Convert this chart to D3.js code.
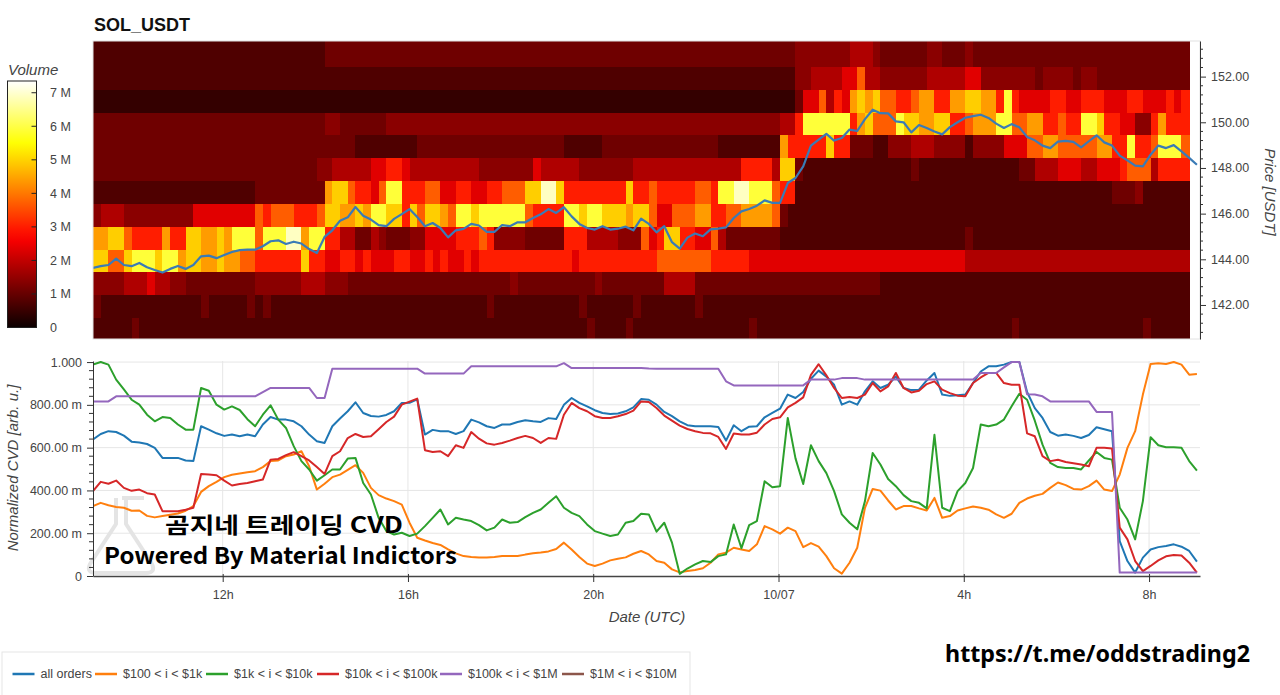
<!DOCTYPE html>
<html><head><meta charset="utf-8">
<script src="https://cdn.jsdelivr.net/npm/d3@7"></script>
<style>
body{margin:0;background:#fff;}
svg{display:block;font-family:"Liberation Sans",Arial,Helvetica,sans-serif;}
</style>
</head><body>
<svg id="c" width="1280" height="695"></svg>
<script>
// ---------------- DATA ----------------
const symbol = "SOL_USDT";
const startHour = 9.2;          // first sample, hours from 10/06 00:00 UTC
const stepHours = 1/6;          // 10-minute samples / heatmap columns
const priceBinStart = 140.45;   // lower edge of first price bin
const priceBinSize = 1.0;
// volume (millions) for each heat code 0..b
const volumeLevels = [0.45,0.75,1.1,1.4,1.8,2.35,3.0,3.7,4.4,4.95,5.9,6.9];
// one string per price bin (bottom to top), one code per 10-min column
const heatRows = [
 "1111121111 1111111111 1111111111 1111111111 1111111111 1111111111 1111211112 1111111111 1111121111 1111111111 1111111111 1111111112 1111111111 1111112111 11",
 "2111111111 1111211111 2121111111 1111111111 1111111111 1211111111 1112111111 2111111121 1111111111 1111111111 1111111111 1111111111 1111111111 1111111111 11",
 "3333444544 3322222222 2333333444 3332222222 2222222222 2222322222 2222232222 2222444422 2222222222 2222222222 2211111111 1111111111 1111111111 1111111111 11",
 "99779aaa9a a899889887 7666666966 5566565556 6556565565 6666666666 6656666666 6667777777 6666655555 5555555555 5555555555 5554444444 4444444444 4444444444 44",
 "8899766668 66998898aa a7aaabb8aa 6644224322 2335555666 7633332222 2666444433 3756996655 7422222221 1111111111 1111111111 1112111111 1111111111 1111111111 11",
 "3444333333 3335555555 5767776667 998898aa99 6979987aa9 aaaaaa7666 6aa9aa9998 9975577788 6677888872 1111111111 1111111111 1111111111 1111111111 1111111111 11",
 "1111111111 1111111111 1222222222 89976657aa 6667755665 56677799bb 9666666669 6676666677 6aabbaaa76 6111111111 1111111111 1111111111 1111111111 1122231111 11",
 "2222222222 2222222222 2222222223 3444445566 5444444444 3333333544 4443333333 4444444444 4444666649 9211111111 1111112111 1111111111 2244455544 5556777466 66",
 "2222222222 2222222222 2222222222 2222111111 1122222222 2222222222 2111112222 2222222222 2111111118 6666696622 2113334443 3331333355 5778877777 8866a667aa a7",
 "2222222222 2222222222 2222222222 3322222233 3333333333 3333333333 3333333333 3333333333 3333333334 46aaaaaa68 9777a99889 9667888aa7 78866766aa 9665533686 66",
 "0000000000 0000000000 0000000000 0000000000 0000000000 0000000000 0000000000 0000000000 0000000000 0255746589 8977667886 68899886a6 5555665566 6555665556 56",
 "1111111111 1111111111 1111111111 1111111111 1111111111 1111111111 1111111111 1111111111 1111111111 1334444557 4433333344 4445533333 3323333233 2222222222 22",
 "1111111111 1111111111 1111111111 2222222222 2222222222 2222222222 2222222222 2222222222 2222222222 2333333344 4322222233 2223222222 2222222222 2222222222 22",
 "1111111111 1111111111 1111111111 2222222222 2222222222 2222222222 2222222222 2222222222 2222222222 2333333344 4322222233 2223222222 2222222222 2222222222 22"
].map(s => s.replace(/ /g, ""));

const price = [
 143.62,143.70,143.75,144.03,143.75,143.70,143.84,143.65,143.53,143.42,
 143.58,143.71,143.58,143.75,144.13,144.16,144.05,144.19,144.32,144.40,
 144.42,144.42,144.57,144.79,144.83,144.67,144.77,144.69,144.45,144.28,
 144.98,145.27,145.69,145.84,146.29,145.91,145.74,145.50,145.45,145.77,
 145.98,146.20,145.85,145.45,145.59,145.37,144.96,145.27,145.33,145.55,
 145.48,145.20,145.20,145.50,145.45,145.62,145.62,145.81,145.97,146.20,
 146.03,146.28,145.88,145.55,145.37,145.30,145.45,145.30,145.34,145.43,
 145.27,145.78,145.55,145.18,145.45,144.75,144.47,144.95,145.13,145.01,
 145.31,145.34,145.40,145.81,146.10,146.20,146.35,146.58,146.47,146.47,
 147.34,147.56,148.07,148.98,149.24,149.49,149.20,149.31,149.68,149.62,
 150.14,150.55,150.40,150.39,150.04,150.00,149.56,149.88,149.75,149.60,
 149.47,149.79,150.00,150.20,150.27,150.33,150.19,149.94,149.75,149.92,
 149.78,149.36,149.21,148.98,148.87,149.15,149.19,149.14,148.90,149.17,
 149.43,149.12,148.98,148.54,148.33,148.10,148.07,148.58,148.98,148.87,
 149.00,148.73,148.44,148.14];

const cvdAllOrders = [
 0.638,0.664,0.677,0.673,0.656,0.628,0.624,0.617,0.599,0.552,
 0.552,0.552,0.54,0.537,0.70,0.684,0.667,0.655,0.661,0.653,
 0.661,0.653,0.708,0.743,0.731,0.731,0.723,0.70,0.661,0.63,
 0.622,0.70,0.736,0.77,0.812,0.762,0.748,0.745,0.753,0.77,
 0.809,0.81,0.826,0.661,0.683,0.677,0.677,0.664,0.677,0.731,
 0.718,0.70,0.692,0.708,0.708,0.72,0.728,0.723,0.72,0.738,
 0.734,0.80,0.832,0.809,0.793,0.775,0.762,0.757,0.76,0.77,
 0.788,0.827,0.824,0.801,0.767,0.747,0.723,0.705,0.70,0.70,
 0.70,0.697,0.633,0.705,0.677,0.698,0.70,0.742,0.762,0.782,
 0.848,0.832,0.86,0.922,0.96,0.932,0.894,0.801,0.816,0.801,
 0.863,0.91,0.879,0.894,0.932,0.879,0.869,0.871,0.914,0.949,
 0.848,0.842,0.845,0.848,0.902,0.956,0.98,0.98,0.988,1.0,
 1.0,0.86,0.785,0.739,0.673,0.656,0.661,0.655,0.645,0.659,
 0.695,0.686,0.677,0.163,0.07,0.016,0.086,0.124,0.135,0.14,
 0.148,0.137,0.117,0.067];

const cvd100to1k = [
 0.327,0.342,0.331,0.323,0.319,0.305,0.306,0.281,0.274,0.28,
 0.286,0.292,0.305,0.327,0.393,0.42,0.44,0.462,0.473,0.479,
 0.485,0.49,0.509,0.537,0.54,0.56,0.568,0.583,0.513,0.404,
 0.431,0.462,0.474,0.496,0.518,0.482,0.412,0.378,0.362,0.35,
 0.334,0.249,0.179,0.166,0.154,0.145,0.124,0.106,0.093,0.089,
 0.086,0.086,0.089,0.093,0.093,0.093,0.10,0.106,0.11,0.115,
 0.126,0.156,0.124,0.089,0.058,0.047,0.058,0.073,0.081,0.087,
 0.104,0.117,0.101,0.07,0.062,0.031,0.017,0.023,0.028,0.036,
 0.062,0.101,0.109,0.132,0.124,0.117,0.148,0.233,0.218,0.198,
 0.226,0.21,0.135,0.154,0.137,0.093,0.036,0.011,0.062,0.132,
 0.319,0.407,0.399,0.353,0.311,0.327,0.327,0.316,0.306,0.365,
 0.272,0.28,0.306,0.316,0.325,0.319,0.31,0.288,0.272,0.291,
 0.342,0.362,0.375,0.384,0.412,0.437,0.425,0.407,0.404,0.42,
 0.446,0.404,0.397,0.474,0.599,0.677,0.848,0.991,0.995,0.991,
 1.0,0.988,0.941,0.944];

const cvd1kto10k = [
 0.988,1.0,0.988,0.918,0.872,0.824,0.801,0.754,0.723,0.743,
 0.739,0.708,0.684,0.684,0.879,0.866,0.801,0.778,0.793,0.776,
 0.733,0.70,0.754,0.798,0.731,0.692,0.607,0.537,0.498,0.446,
 0.471,0.498,0.498,0.549,0.552,0.435,0.381,0.272,0.21,0.194,
 0.202,0.187,0.198,0.233,0.272,0.311,0.241,0.272,0.264,0.257,
 0.238,0.213,0.226,0.264,0.249,0.252,0.275,0.295,0.311,0.342,
 0.373,0.319,0.295,0.28,0.241,0.21,0.198,0.187,0.194,0.249,
 0.257,0.291,0.288,0.207,0.249,0.156,0.01,0.035,0.054,0.07,
 0.065,0.093,0.101,0.241,0.13,0.238,0.257,0.443,0.415,0.42,
 0.739,0.55,0.43,0.611,0.537,0.481,0.397,0.288,0.249,0.218,
 0.35,0.575,0.521,0.453,0.42,0.378,0.35,0.342,0.316,0.66,
 0.319,0.303,0.397,0.435,0.505,0.708,0.70,0.708,0.731,0.793,
 0.852,0.824,0.726,0.614,0.529,0.509,0.505,0.505,0.498,0.54,
 0.58,0.552,0.544,0.319,0.264,0.171,0.35,0.649,0.611,0.602,
 0.602,0.599,0.537,0.493];

const cvd10kto100k = [
 0.397,0.44,0.431,0.446,0.412,0.398,0.404,0.387,0.381,0.303,
 0.303,0.303,0.31,0.319,0.477,0.474,0.471,0.446,0.423,0.43,
 0.435,0.443,0.451,0.544,0.547,0.565,0.579,0.56,0.54,0.509,
 0.477,0.56,0.583,0.645,0.664,0.65,0.653,0.686,0.72,0.745,
 0.801,0.815,0.829,0.588,0.58,0.583,0.56,0.611,0.599,0.673,
 0.642,0.62,0.614,0.622,0.633,0.645,0.655,0.645,0.622,0.645,
 0.641,0.754,0.809,0.785,0.77,0.747,0.739,0.739,0.747,0.757,
 0.773,0.816,0.813,0.785,0.75,0.726,0.703,0.687,0.677,0.669,
 0.667,0.65,0.594,0.666,0.661,0.661,0.67,0.708,0.734,0.742,
 0.788,0.809,0.835,0.94,0.99,0.938,0.879,0.832,0.837,0.832,
 0.848,0.902,0.863,0.886,0.949,0.879,0.858,0.866,0.897,0.91,
 0.871,0.855,0.843,0.84,0.902,0.928,0.949,0.949,0.902,0.894,
 0.894,0.667,0.653,0.56,0.537,0.543,0.533,0.527,0.521,0.513,
 0.599,0.599,0.596,0.226,0.171,0.07,0.023,0.047,0.073,0.092,
 0.098,0.096,0.062,0.016];

const cvd100kto1M = [
 0.816,0.816,0.816,0.84,0.84,0.84,0.84,0.84,0.84,0.84,
 0.84,0.84,0.84,0.84,0.84,0.84,0.84,0.84,0.84,0.84,
 0.84,0.84,0.86,0.879,0.879,0.879,0.879,0.879,0.879,0.832,
 0.832,0.969,0.969,0.969,0.969,0.969,0.969,0.969,0.969,0.969,
 0.969,0.969,0.969,0.946,0.946,0.946,0.946,0.946,0.946,0.98,
 0.98,0.98,0.98,0.98,0.98,0.98,0.98,0.98,0.98,0.98,
 0.98,0.995,0.972,0.972,0.972,0.972,0.972,0.972,0.972,0.972,
 0.972,0.972,0.97,0.969,0.969,0.969,0.969,0.969,0.969,0.969,
 0.969,0.969,0.91,0.891,0.891,0.891,0.891,0.891,0.891,0.891,
 0.891,0.891,0.891,0.918,0.918,0.918,0.918,0.925,0.925,0.925,
 0.918,0.918,0.918,0.918,0.918,0.918,0.918,0.918,0.918,0.918,
 0.918,0.918,0.918,0.918,0.918,0.949,0.949,0.949,0.975,1.0,
 1.0,0.85,0.848,0.84,0.816,0.816,0.816,0.816,0.816,0.816,
 0.767,0.767,0.767,0.016,0.016,0.016,0.016,0.016,0.016,0.016,
 0.016,0.016,0.016,0.016];

const seriesNames = ["all orders","$100 < i < $1k","$1k < i < $10k","$10k < i < $100k","$100k < i < $1M","$1M < i < $10M"];
const cvdSeries = [cvdAllOrders, cvd100to1k, cvd1kto10k, cvd10kto100k, cvd100kto1M];

const timeTicks = [12,16,20,24,28,32];
const timeTickLabels = ["12h","16h","20h","10/07","4h","8h"];
const priceTicks = [142,144,146,148,150,152];
const cvdTicks = [0,0.2,0.4,0.6,0.8,1.0];
const cvdTickLabels = ["0","200.00 m","400.00 m","600.00 m","800.00 m","1.000"];
const volumeTicks = [0,1,2,3,4,5,6,7];
const volumeTickLabels = ["0","1 M","2 M","3 M","4 M","5 M","6 M","7 M"];

// ---------------- STYLE / LAYOUT ----------------
const seriesColors = ["#1f77b4","#ff7f0e","#2ca02c","#d62728","#9467bd","#8c564b"];
const P = {l:93, r:1200, t:41, b:339};
const C = {l:93, r:1200, t:361, b:576};
const tickColor = "#444", axisColor = "#333";

const svg = d3.select("#c");
const defs = svg.append("defs");
defs.append("clipPath").attr("id","clipTop").append("rect")
  .attr("x",P.l).attr("y",P.t).attr("width",P.r-P.l).attr("height",P.b-P.t);
defs.append("clipPath").attr("id","clipBot").append("rect")
  .attr("x",C.l).attr("y",C.t-3).attr("width",C.r-C.l).attr("height",C.b-C.t+4);

const x = d3.scaleLinear().domain([startHour, 33.1]).range([P.l, P.r]);
const yP = d3.scaleLinear().domain([140.51, 153.56]).range([P.b, P.t]);
const yC = d3.scaleLinear().domain([0, 1.005]).range([C.b, C.t]);
const vMax = 7.35;
const heat = d3.scaleLinear().domain([0, .365*vMax, .746*vMax, vMax])
  .range(["#0b0000","#ff0000","#ffff00","#ffffff"]).clamp(true);

// title
svg.append("text").attr("x",94).attr("y",31).attr("font-size",18).attr("font-weight","bold")
  .attr("fill","#111").text(symbol);

// ---------------- HEATMAP ----------------
const cells = [];
heatRows.forEach((row,k) => row.split("").forEach((ch,j) =>
  cells.push({j, k, v: volumeLevels[parseInt(ch,16)]})));
const tAt = j => startHour + j*stepHours;
svg.append("g").attr("clip-path","url(#clipTop)")
  .selectAll("rect").data(cells).join("rect")
  .attr("x", d => x(tAt(d.j)))
  .attr("width", d => x(tAt(d.j+1)) - x(tAt(d.j)) + 0.6)
  .attr("y", d => yP(priceBinStart + (d.k+1)*priceBinSize))
  .attr("height", d => yP(priceBinStart + d.k*priceBinSize) - yP(priceBinStart + (d.k+1)*priceBinSize) + 0.6)
  .attr("fill", d => heat(d.v))
  .attr("shape-rendering","crispEdges");

svg.append("path").datum(price).attr("clip-path","url(#clipTop)")
  .attr("d", d3.line().x((d,i)=>x(tAt(i))).y(d=>yP(d)))
  .attr("fill","none").attr("stroke","#3a7bb6").attr("stroke-width",2.2)
  .attr("stroke-linejoin","round");

svg.append("rect").attr("x",P.l).attr("y",P.t).attr("width",P.r-P.l).attr("height",P.b-P.t)
  .attr("fill","none").attr("stroke","#e2e2e2");

// right price axis
const ra = svg.append("g").attr("transform",`translate(${P.r},0)`)
  .call(d3.axisRight(yP).tickValues(priceTicks).tickFormat(d3.format(".2f"))
    .tickSizeInner(6).tickSizeOuter(0).tickPadding(5));
ra.select(".domain").attr("stroke",axisColor);
ra.selectAll(".tick line").attr("stroke",axisColor);
ra.selectAll("text").attr("fill",tickColor).attr("font-size",12.5).attr("font-family","Liberation Sans, Arial, sans-serif");
const priceMinor = d3.range(140.8, 153.5, 0.4).filter(v => Math.abs(v/2 - Math.round(v/2)) > 0.01);
ra.selectAll(".minor").data(priceMinor).join("line").attr("class","minor")
  .attr("x1",0).attr("x2",3).attr("y1",d=>yP(d)).attr("y2",d=>yP(d)).attr("stroke",axisColor);
svg.append("text").attr("transform",`translate(1265,192) rotate(90)`)
  .attr("text-anchor","middle").attr("font-size",15).attr("font-style","italic")
  .attr("fill",tickColor).text("Price [USDT]");

// ---------------- COLORBAR ----------------
const cb = {x:7.5, w:29, t:81, b:327.5};
const yV = d3.scaleLinear().domain([0, vMax]).range([cb.b, cb.t]);
const grad = defs.append("linearGradient").attr("id","cbg").attr("x1",0).attr("x2",0).attr("y1",1).attr("y2",0);
d3.range(0, 1.0001, 0.05).forEach(f => grad.append("stop").attr("offset",f).attr("stop-color",heat(f*vMax)));
svg.append("rect").attr("x",cb.x).attr("y",cb.t).attr("width",cb.w).attr("height",cb.b-cb.t)
  .attr("fill","url(#cbg)").attr("stroke","#222").attr("stroke-width",1);
const cbAxis = svg.append("g");
cbAxis.selectAll("line").data(volumeTicks.slice(1)).join("line")
  .attr("x1",cb.x+cb.w-5).attr("x2",cb.x+cb.w).attr("y1",d=>yV(d)).attr("y2",d=>yV(d))
  .attr("stroke","#222");
cbAxis.selectAll("text").data(volumeTicks).join("text")
  .attr("x",50).attr("y",d=>yV(d)).attr("dy","0.35em")
  .attr("font-size",12.5).attr("fill",tickColor).text((d,i)=>volumeTickLabels[i]);
svg.append("text").attr("x",8).attr("y",75).attr("font-size",15).attr("font-style","italic")
  .attr("fill",tickColor).text("Volume");

// ---------------- CVD CHART ----------------
const grid = svg.append("g").attr("stroke","#e6e6e6").attr("stroke-width",1);
grid.selectAll(".h").data(cvdTicks.slice(1)).join("line").attr("class","h")
  .attr("x1",C.l).attr("x2",C.r).attr("y1",d=>yC(d)).attr("y2",d=>yC(d));
grid.selectAll(".v").data(timeTicks).join("line").attr("class","v")
  .attr("x1",d=>x(d)).attr("x2",d=>x(d)).attr("y1",C.t).attr("y2",C.b);

// faint logo watermark (flask)
svg.append("path").attr("d","M122,498 h22 M126,498 v26 l26,40 q4,9 -6,9 h-50 q-10,0 -6,-9 l26,-40 v-26")
  .attr("fill","none").attr("stroke","#e4e4e4").attr("stroke-width",4).attr("stroke-linejoin","round");

const lg = svg.append("g").attr("clip-path","url(#clipBot)");
cvdSeries.forEach((s, si) => {
  lg.append("path").datum(s)
    .attr("d", d3.line().x((d,i)=>x(tAt(i))).y(d=>yC(d)))
    .attr("fill","none").attr("stroke",seriesColors[si]).attr("stroke-width",2)
    .attr("stroke-linejoin","round");
});

// left axis
const la = svg.append("g").attr("transform",`translate(${C.l},0)`)
  .call(d3.axisLeft(yC).tickValues(cvdTicks).tickFormat((d,i)=>cvdTickLabels[i])
    .tickSizeInner(6).tickSizeOuter(0).tickPadding(5));
la.select(".domain").attr("stroke",axisColor);
la.selectAll(".tick line").attr("stroke",axisColor);
la.selectAll("text").attr("fill",tickColor).attr("font-size",12.5).attr("font-family","Liberation Sans, Arial, sans-serif");
const cvdMinor = d3.range(0.04, 1.0, 0.04).filter(v => Math.abs(v/0.2 - Math.round(v/0.2)) > 0.01);
la.selectAll(".minor").data(cvdMinor).join("line").attr("class","minor")
  .attr("x1",-4).attr("x2",0).attr("y1",d=>yC(d)).attr("y2",d=>yC(d)).attr("stroke",axisColor);
svg.append("text").attr("transform",`translate(18,468) rotate(-90)`)
  .attr("text-anchor","middle").attr("font-size",15).attr("font-style","italic")
  .attr("fill",tickColor).text("Normalized CVD [arb. u.]");

// bottom axis
const ba = svg.append("g").attr("transform",`translate(0,${C.b})`)
  .call(d3.axisBottom(x).tickValues(timeTicks).tickFormat((d,i)=>timeTickLabels[i])
    .tickSizeInner(6).tickSizeOuter(0).tickPadding(8));
ba.select(".domain").attr("stroke","#444").attr("stroke-width",1.6);
ba.selectAll(".tick line").attr("stroke",axisColor).attr("y1",-2);
ba.selectAll("text").attr("fill",tickColor).attr("font-size",12.5).attr("font-family","Liberation Sans, Arial, sans-serif");
svg.append("text").attr("x",647).attr("y",622).attr("text-anchor","middle")
  .attr("font-size",15).attr("font-style","italic").attr("fill",tickColor).text("Date (UTC)");

// overlay texts
svg.append("text").attr("x",165).attr("y",533).attr("font-size",22).attr("font-weight","bold")
  .attr("font-family","'Noto Sans CJK KR','Noto Sans',sans-serif").attr("fill","#000")
  .attr("textLength",238).attr("lengthAdjust","spacingAndGlyphs").text("곰지네 트레이딩 CVD");
svg.append("text").attr("x",104).attr("y",564).attr("font-size",23).attr("font-weight","bold")
  .attr("font-family","'Noto Sans CJK KR','Noto Sans',sans-serif").attr("fill","#000")
  .attr("textLength",353).attr("lengthAdjust","spacingAndGlyphs").text("Powered By Material Indictors");

// ---------------- LEGEND ----------------
svg.append("rect").attr("x",2).attr("y",652).attr("width",688).attr("height",60)
  .attr("fill","#fff").attr("stroke","#e5e5e5");
const legX = [12.5, 95, 206, 317, 440, 562];
const leg = svg.append("g").selectAll("g").data(seriesNames).join("g")
  .attr("transform",(d,i)=>`translate(${legX[i]},674)`);
leg.append("line").attr("x1",0).attr("x2",22).attr("y1",0).attr("y2",0)
  .attr("stroke",(d,i)=>seriesColors[i]).attr("stroke-width",2.5);
leg.append("text").attr("x",28).attr("dy","0.35em").attr("font-size",12.5)
  .attr("fill",tickColor).text(d=>d);

// link text
svg.append("text").attr("x",945).attr("y",662).attr("font-size",23).attr("font-weight","bold")
  .attr("font-family","'Noto Sans','Liberation Sans',sans-serif").attr("fill","#000")
  .attr("textLength",305).attr("lengthAdjust","spacingAndGlyphs").text("https://t.me/oddstrading2");
</script>
</body></html>
